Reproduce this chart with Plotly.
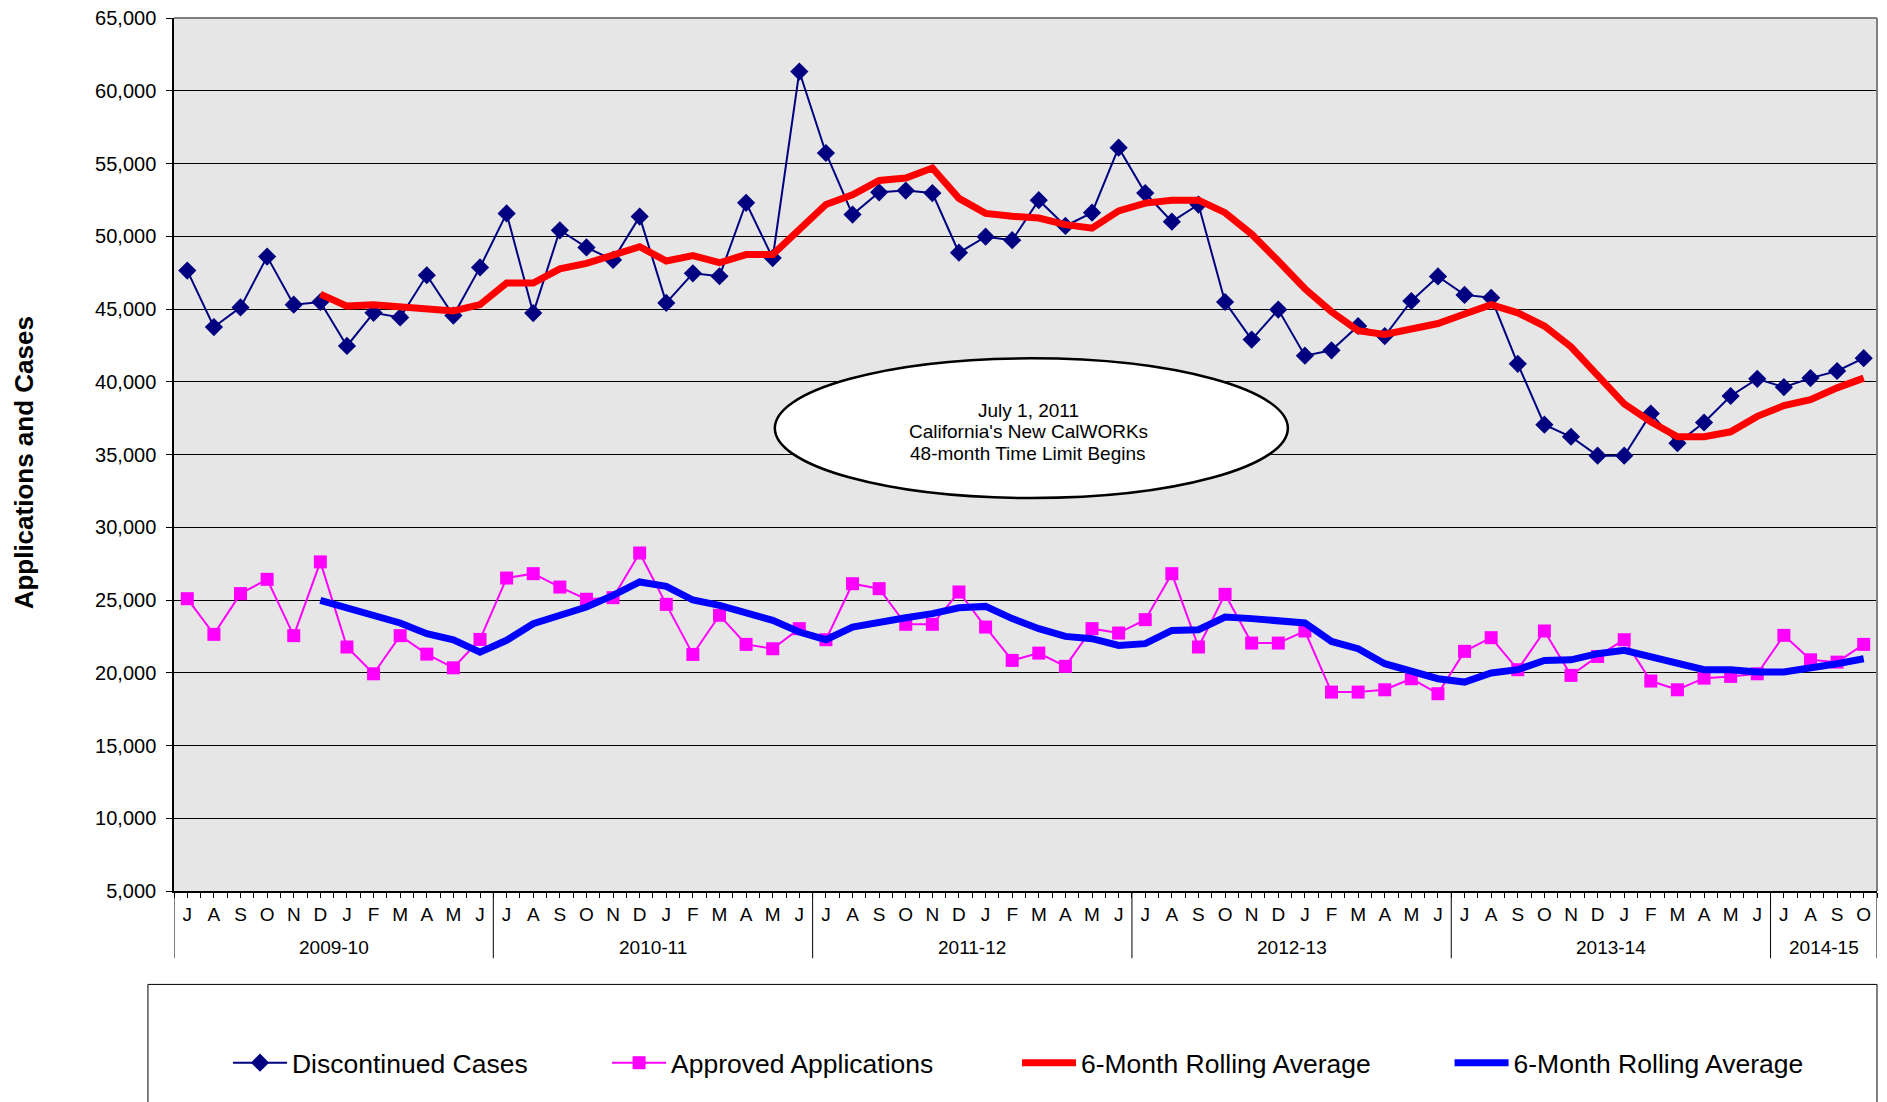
import plotly.graph_objects as go

FONT = "Liberation Sans, Arial, sans-serif"
NAVY = "#000080"
MAGENTA = "#ff00ff"
RED = "#ff0000"
BLUE = "#0000ff"
PLOT_BG = "#e6e6e6"

# July 2009 .. October 2014, one point per month
months = ["J", "A", "S", "O", "N", "D", "J", "F", "M", "A", "M", "J"] * 5 + ["J", "A", "S", "O"]
fiscal_years = ["2009-10", "2010-11", "2011-12", "2012-13", "2013-14", "2014-15"]
year_sizes = [12, 12, 12, 12, 12, 4]

discontinued = [
    47640, 43760, 45110, 48600, 45300, 45480, 42460, 44740, 44420, 47320, 44550, 47860,
    51570, 44720, 50410, 49230, 48370, 51350, 45420, 47450, 47250, 52300, 48500, 61320,
    55720, 51490, 53020, 53140, 52970, 48870, 49970, 49730, 52480, 50710, 51620, 56090,
    52970, 51000, 52180, 45480, 42900, 44960, 41790, 42160, 43830, 43140, 45550, 47240,
    45970, 45770, 41230, 37050, 36220, 34920, 34920, 37810, 35780, 37200, 39020, 40200,
    39630, 40250, 40740, 41620,
]
approved = [
    25090, 22640, 25440, 26420, 22550, 27620, 21770, 19930, 22550, 21280, 20340, 22290,
    26510, 26810, 25890, 25050, 25160, 28230, 24700, 21260, 23950, 21950, 21650, 23030,
    22270, 26120, 25780, 23330, 23330, 25550, 23140, 20850, 21350, 20440, 23030, 22730,
    23650, 26810, 21770, 25390, 22040, 22040, 22870, 18670, 18670, 18830, 19590, 18560,
    21470, 22410, 20210, 22870, 19820, 21120, 22270, 19430, 18830, 19630, 19750, 19930,
    22570, 20890, 20730, 21950,
]
# rolling averages start with December 2009
discontinued_avg = [None] * 5 + [
    46020, 45200, 45300, 45150, 44960, 44870, 45300,
    46780, 46780, 47760, 48130, 48740, 49280, 48300, 48670, 48180, 48740, 48740, 50390,
    52180, 52850, 53830, 54000, 54690, 52600, 51570, 51370, 51250, 50800, 50560, 51740,
    52280, 52480, 52480, 51620, 50140, 48300, 46390, 44810, 43510, 43250, 43630, 44000,
    44660, 45300, 44740, 43830, 42400, 40440, 38480, 37250, 36220, 36220, 36560, 37620,
    38360, 38770, 39580, 40250,
]
approved_avg = [None] * 5 + [
    24980, 24470, 24010, 23420, 22680, 22270, 21420,
    22230, 23370, 23950, 24520, 25320, 26240, 25940, 25000, 24630, 24170, 23600, 22800,
    22270, 23140, 23490, 23780, 24060, 24470, 24560, 23720, 23030, 22500, 22340, 21880,
    22000, 22910, 22960, 23830, 23720, 23600, 23420, 22150, 21650, 20620, 20120, 19590,
    19360, 19980, 20210, 20850, 20890, 21310, 21540, 21080, 20730, 20210, 20210, 20050,
    20050, 20280, 20620, 20960,
]

callout = ["July 1, 2011", "California's New CalWORKs", "48-month Time Limit Begins"]

x = list(range(len(months)))

fig = go.Figure()
fig.add_trace(go.Scatter(
    x=x, y=discontinued, name="Discontinued Cases", mode="lines+markers",
    line=dict(color=NAVY, width=2),
    marker=dict(symbol="diamond", size=14, color=NAVY),
    legend="legend",
))
fig.add_trace(go.Scatter(
    x=x, y=approved, name="Approved Applications", mode="lines+markers",
    line=dict(color=MAGENTA, width=2),
    marker=dict(symbol="square", size=13, color=MAGENTA),
    legend="legend2",
))
fig.add_trace(go.Scatter(
    x=x, y=discontinued_avg, name="6-Month Rolling Average", mode="lines",
    line=dict(color=RED, width=7),
    legend="legend3",
))
fig.add_trace(go.Scatter(
    x=x, y=approved_avg, name="6-Month Rolling Average", mode="lines",
    line=dict(color=BLUE, width=7),
    legend="legend4",
))

shapes = []
# fiscal year separators below the month labels
edges = [-0.5]
for n in year_sizes:
    edges.append(edges[-1] + n)
for e in edges:
    shapes.append(dict(type="line", xref="x", yref="paper", x0=e, x1=e, y0=0, y1=-0.077,
                       line=dict(color="#000000", width=1)))
# top / right frame
shapes.append(dict(type="line", xref="paper", yref="paper", x0=0, x1=1, y0=1, y1=1,
                   line=dict(color="#808080", width=2)))
shapes.append(dict(type="line", xref="paper", yref="paper", x0=1, x1=1, y0=0, y1=1,
                   line=dict(color="#808080", width=2)))
# legend frame
shapes.append(dict(type="rect", xref="paper", yref="paper", x0=-0.0153, x1=1.0, y0=-0.107, y1=-0.3,
                   line=dict(color="#000000", width=1), fillcolor="rgba(0,0,0,0)"))
# callout ellipse
shapes.append(dict(type="circle", xref="x", yref="y", x0=22.08, x1=41.36, y0=32010, y1=41610,
                   fillcolor="white", line=dict(color="#000000", width=2.5), layer="above"))

annotations = []
start = 0
for name, n in zip(fiscal_years, year_sizes):
    annotations.append(dict(x=start + (n - 1) / 2, y=-0.0645, xref="x", yref="paper",
                            text=name, showarrow=False, yanchor="middle",
                            font=dict(family=FONT, size=19, color="#000000")))
    start += n
for line_text, yv in zip(callout, [38020, 36560, 35100]):
    annotations.append(dict(x=31.6, y=yv, xref="x", yref="y", text=line_text, showarrow=False,
                            yanchor="middle", borderpad=0,
                            font=dict(family=FONT, size=19, color="#000000")))
annotations.append(dict(x=-0.088, y=0.49, xref="paper", yref="paper", text="<b>Applications and Cases</b>",
                        textangle=-90, showarrow=False, xanchor="center", yanchor="middle",
                        font=dict(family=FONT, size=26, color="#000000")))


def legend_box(xpos):
    return dict(
        orientation="h", x=xpos, y=-0.197, xanchor="left", yanchor="middle",
        font=dict(family=FONT, size=26.5, color="#000000"),
        itemwidth=54, bgcolor="rgba(0,0,0,0)",
    )


# the page body adds an 8px margin, so the figure is 8px smaller than the window
fig.update_layout(
    width=1879, height=1094,
    margin=dict(l=166, r=10, t=10, b=211, autoexpand=False),
    paper_bgcolor="white",
    plot_bgcolor=PLOT_BG,
    font=dict(family=FONT, color="#000000"),
    shapes=shapes,
    annotations=annotations,
    showlegend=True,
    legend=legend_box(0.0317),
    legend2=legend_box(0.2543),
    legend3=legend_box(0.495),
    legend4=legend_box(0.749),
    xaxis=dict(
        range=[-0.5, 63.5], tickmode="array", tickvals=x, ticktext=months,
        showgrid=False, zeroline=False, showline=True, linecolor="#000000", linewidth=1.5,
        ticks="outside", ticklen=5, tickcolor="#000000", automargin=False,
        minor=dict(tickmode="linear", tick0=-0.5, dtick=1, ticks="outside", ticklen=5,
                   tickcolor="#000000", showgrid=False),
        tickfont=dict(family=FONT, size=19, color="#000000"),
    ),
    yaxis=dict(
        range=[5000, 65000], dtick=5000, tickformat=",",
        showgrid=True, gridcolor="#000000", gridwidth=1, zeroline=False,
        showline=True, linecolor="#000000", linewidth=1.5, automargin=False,
        ticks="outside", ticklen=6, tickcolor="#000000", ticklabelstandoff=6,
        ticklabeloverflow="allow",
        tickfont=dict(family=FONT, size=20, color="#000000"),
    ),
)

fig.write_html("out.html")
